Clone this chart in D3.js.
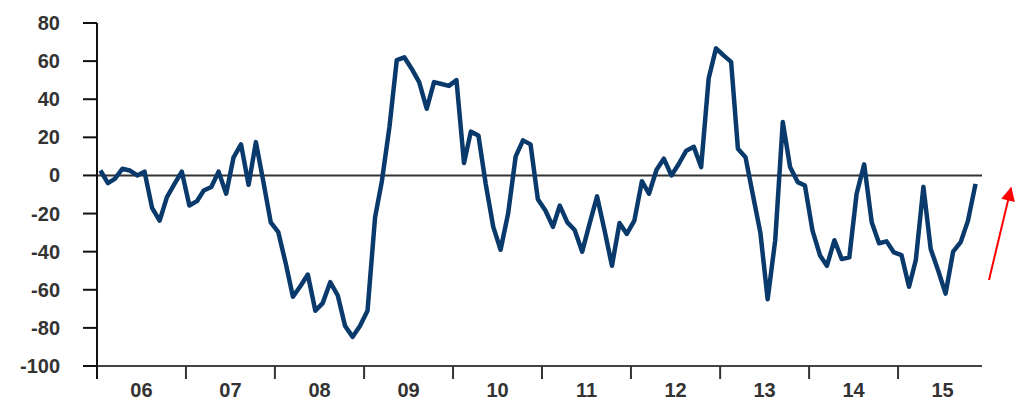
<!DOCTYPE html>
<html>
<head>
<meta charset="utf-8">
<script src="https://cdn.jsdelivr.net/npm/d3@7"></script>
<style>
  html, body { margin: 0; padding: 0; background: #fff; }
  svg { display: block; }
</style>
</head>
<body>
<div id="chart"></div>
<script>
// monthly values, Jan 2006 .. Nov 2015
var startYear = 2006;
var values = [
  2.6, -4, -1.8, 3.5, 2.6, 0, 2, -17, -23.7, -11.4, -4.4, 2,            // 06
  -15.8, -13.5, -7.9, -6.1, 2, -9.6, 9.3, 16.3, -4.9, 17.5, -3.5, -24.6, // 07
  -29.8, -46.5, -63.7, -58, -52, -71, -67, -56, -63, -79, -84.7, -79,   // 08
  -71, -22, -3, 25.4, 60.5, 62, 56, 49, 35, 49, 48, 47,                 // 09
  50, 6.5, 23, 21, -4.4, -27, -39, -20, 10, 18.4, 16.3, -12.5,          // 10
  -18.4, -27, -15.8, -24.6, -28.6, -40, -25.4, -11, -29, -47.4, -25, -30.7, // 11
  -23.7, -3, -9.6, 3, 8.8, 0, 6, 13, 15, 4.4, 51, 66.7,                 // 12
  63, 59.6, 14, 9.6, -10, -30, -65, -34, 28, 4.4, -3.5, -5.3,           // 13
  -29, -42, -47.4, -34, -43.9, -43, -9.6, 5.8, -24.6, -35.6, -34.6, -40.4, // 14
  -41.8, -58.4, -44.4, -6, -38.6, -50, -62, -40, -35, -23.7, -4.4       // 15
];
var yearLabels = ["06", "07", "08", "09", "10", "11", "12", "13", "14", "15"];
var yTicks = [80, 60, 40, 20, 0, -20, -40, -60, -80, -100];

var W = 1024, H = 408;
var svg = d3.select("#chart").append("svg")
  .attr("width", W)
  .attr("height", H);

var x = d3.scaleTime()
  .domain([new Date(startYear, 0, 1), new Date(startYear + 10, 0, 1)])
  .range([97, 987]);
var y = d3.scaleLinear()
  .domain([-100, 80])
  .range([366, 23]);

var data = values.map(function(v, i) {
  return { date: new Date(startYear, i, 15), value: v };
});

function label(sel) {
  sel.attr("font-family", "'Liberation Sans', Arial, sans-serif")
    .attr("font-weight", "bold")
    .attr("font-size", 20)
    .attr("fill", "#333");
}

// zero line
svg.append("line")
  .attr("x1", x.range()[0]).attr("x2", 982)
  .attr("y1", y(0)).attr("y2", y(0))
  .attr("stroke", "#333").attr("stroke-width", 2);

// bottom axis
var yearStarts = yearLabels.map(function(d, i) { return new Date(startYear + i, 0, 1); });
var xAxis = svg.append("g");
xAxis.append("line")
  .attr("x1", x.range()[0]).attr("x2", 982)
  .attr("y1", y(-100)).attr("y2", y(-100))
  .attr("stroke", "#444").attr("stroke-width", 2);
xAxis.selectAll(".xt").data(yearStarts).enter().append("line")
  .attr("x1", function(d) { return x(d); }).attr("x2", function(d) { return x(d); })
  .attr("y1", y(-100)).attr("y2", y(-100) + 13)
  .attr("stroke", "#333").attr("stroke-width", 2);
xAxis.selectAll(".xl").data(yearLabels).enter().append("text")
  .call(label)
  .attr("text-anchor", "middle")
  .attr("x", function(d, i) { return (x(yearStarts[i]) + x(new Date(startYear + i + 1, 0, 1))) / 2; })
  .attr("y", 397)
  .text(function(d) { return d; });

// left axis
var yAxis = svg.append("g");
yAxis.append("line")
  .attr("x1", 97).attr("x2", 97)
  .attr("y1", y(80)).attr("y2", y(-100) + 13)
  .attr("stroke", "#111").attr("stroke-width", 2);
yAxis.selectAll(".yt").data(yTicks).enter().append("line")
  .attr("x1", 83).attr("x2", 97)
  .attr("y1", function(d) { return y(d); }).attr("y2", function(d) { return y(d); })
  .attr("stroke", "#111").attr("stroke-width", 2);
yAxis.selectAll(".yl").data(yTicks).enter().append("text")
  .call(label)
  .attr("text-anchor", "end")
  .attr("x", 60)
  .attr("y", function(d) { return y(d) + 7; })
  .text(function(d) { return d; });

// series
var line = d3.line()
  .x(function(d) { return x(d.date); })
  .y(function(d) { return y(d.value); });
svg.append("path")
  .datum(data)
  .attr("d", line)
  .attr("fill", "none")
  .attr("stroke", "#0a3a6b")
  .attr("stroke-width", 4.5)
  .attr("stroke-linejoin", "round");

// red arrow
svg.append("defs").append("marker")
  .attr("id", "head")
  .attr("viewBox", "0 0 10 10")
  .attr("refX", 9).attr("refY", 5)
  .attr("markerWidth", 8).attr("markerHeight", 7)
  .attr("orient", "auto")
  .append("path")
  .attr("d", "M0,0 L10,5 L0,10 Z")
  .attr("fill", "#ff0000");
svg.append("line")
  .attr("x1", 989).attr("y1", 280)
  .attr("x2", 1011).attr("y2", 188)
  .attr("stroke", "#ff0000").attr("stroke-width", 2)
  .attr("marker-end", "url(#head)");
</script>
</body>
</html>
